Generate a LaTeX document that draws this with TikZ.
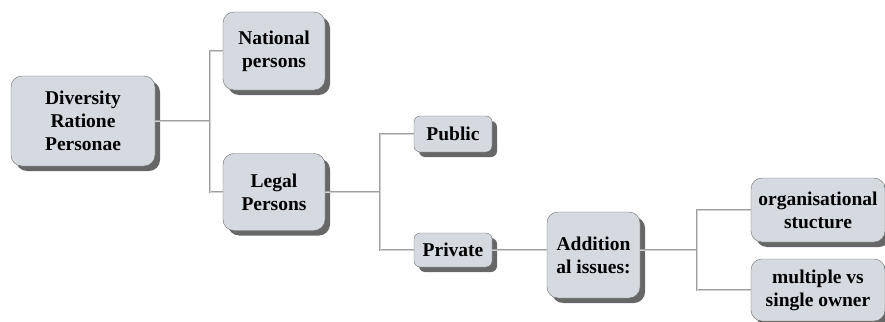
\documentclass[tikz,border=0pt]{standalone}
\usepackage{fontspec}
\setmainfont{Liberation Serif}
\usetikzlibrary{shadows}
\definecolor{boxfill}{RGB}{213,218,224}
\definecolor{boxline}{RGB}{110,110,110}
\tikzset{
	box/.style={draw=boxline,fill=boxfill,rounded corners=11pt,align=center,
		font=\fontsize{19.5}{23}\selectfont\bfseries,inner sep=2pt,
		drop shadow={shadow xshift=5pt,shadow yshift=-5pt,fill=black!70,opacity=0.85}},
	smallbox/.style={box,rounded corners=6pt},
	link/.style={draw=gray!75,double=gray!35,double distance=0.6pt,line width=0.7pt}
}
\begin{document}
\begin{tikzpicture}[x=1pt,y=-1pt]
	\useasboundingbox (0,0) rectangle (885,321);
	\node[box,minimum width=144pt,minimum height=90pt] (root) at (83,121) {Diversity\\Ratione\\Personae};
	\node[box,minimum width=102pt,minimum height=78pt] (national) at (274,51) {National\\persons};
	\node[box,minimum width=102pt,minimum height=77pt] (legal) at (274,192) {Legal\\Persons};
	\node[smallbox,minimum width=78pt,minimum height=36pt] (public) at (453,134) {Public};
	\node[smallbox,minimum width=78pt,minimum height=34pt] (private) at (453,250) {Private};
	\node[box,minimum width=93pt,minimum height=86pt] (extra) at (593.5,255) {Addition\\al issues:};
	\node[box,minimum width=134pt,minimum height=64pt] (orga) at (818,210) {organisational\\stucture};
	\node[box,minimum width=134pt,minimum height=62pt] (owner) at (818,290) {multiple vs\\single owner};
	% links
	\draw[link] (root.east) -- ++(55,0) coordinate (j1);
	\draw[link] (j1) |- (national.west);
	\draw[link] (j1) |- (legal.west);
	\draw[link] (legal.east) -- ++(55,0) coordinate (j2);
	\draw[link] (j2) |- (public.west);
	\draw[link] (j2) |- (private.west);
	\draw[link] (private.east) -- (private.east -| extra.west);
	\draw[link] (extra.east |- private.east) -- ++(57,0) coordinate (j3);
	\draw[link] (j3) |- (orga.west);
	\draw[link] (j3) |- (owner.west);
\end{tikzpicture}
\end{document}
